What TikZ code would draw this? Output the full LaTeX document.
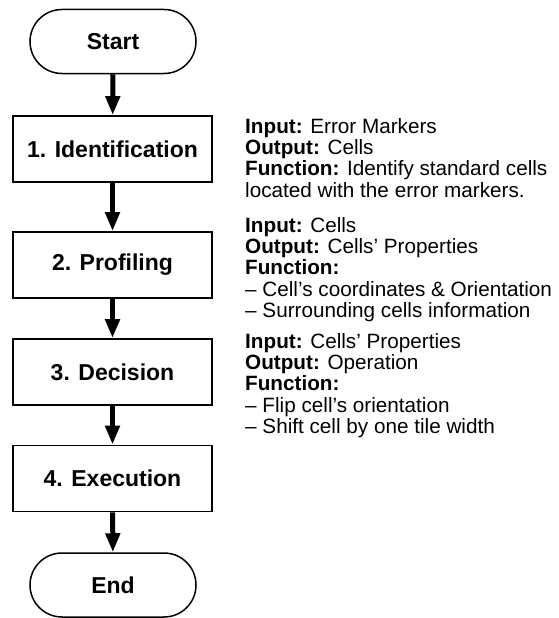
\documentclass[tikz,border=0pt]{standalone}
\usepackage{fontspec}
\setmainfont{Liberation Sans}
\usetikzlibrary{arrows.meta,shapes.misc}
\begin{document}
\begin{tikzpicture}[x=1pt,y=-1pt,
  stepbox/.style={draw,line width=1.8pt,minimum width=199pt,minimum height=66pt,inner sep=0pt,
    font=\fontsize{23}{27}\selectfont\bfseries},
  termbox/.style={draw,line width=1.5pt,rounded rectangle,minimum width=166pt,minimum height=64pt,inner sep=0pt,
    font=\fontsize{23}{27}\selectfont\bfseries},
  flow/.style={line width=5pt,-{Triangle[width=14pt,length=19pt]}},
  info/.style={anchor=north west,inner sep=0pt,align=left,
    font=\fontsize{20.7}{21.3}\selectfont}]
\useasboundingbox (0,0) rectangle (558,618);
\node[termbox] (start) at (113,41.5) {Start};
\node[stepbox] (s1) at (112.5,149) {1. Identification};
\node[stepbox] (s2) at (112.5,265) {2. Profiling};
\node[stepbox] (s3) at (112.5,372) {3. Decision};
\node[stepbox] (s4) at (112.5,478.5) {4. Execution};
\node[termbox] (end) at (113,585) {End};
\draw[flow] (start) -- (s1);
\draw[flow] (s1) -- (s2);
\draw[flow] (s2) -- (s3);
\draw[flow] (s3) -- (s4);
\draw[flow] (s4) -- (end);
\node[info] (i1) at (245,118) {\textbf{Input:} Error Markers\\\textbf{Output:} Cells\\\textbf{Function:} Identify standard cells\\located with the error markers.};
\node[info] (i2) at (245,217) {\textbf{Input:} Cells\\\textbf{Output:} Cells’ Properties\\\textbf{Function:}\\– Cell’s coordinates \& Orientation\\– Surrounding cells information};
\node[info] (i3) at (245,333) {\textbf{Input:} Cells’ Properties\\\textbf{Output:} Operation\\\textbf{Function:}\\– Flip cell’s orientation\\– Shift cell by one tile width};
\end{tikzpicture}
\end{document}
